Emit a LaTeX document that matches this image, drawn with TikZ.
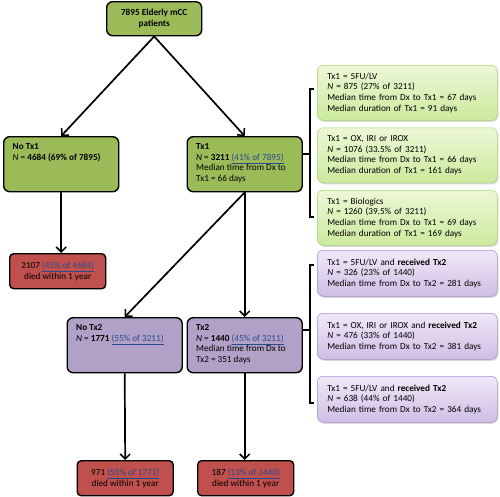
\documentclass[tikz,border=0pt]{standalone}
\usepackage{fontspec}
\setmainfont{Carlito}
\usetikzlibrary{positioning,shadows,arrows.meta}

\definecolor{txgreen}{RGB}{155,187,89}
\definecolor{txpurple}{RGB}{178,161,199}
\definecolor{deadred}{RGB}{192,80,77}
\definecolor{linkblue}{RGB}{40,74,140}
\definecolor{gtop}{RGB}{236,248,214}
\definecolor{gbot}{RGB}{204,234,158}
\definecolor{gline}{RGB}{170,212,112}
\definecolor{ptop}{RGB}{240,233,248}
\definecolor{pbot}{RGB}{206,190,228}
\definecolor{pline}{RGB}{168,142,204}

\newcommand{\lnk}[1]{\textcolor{linkblue}{\underline{#1}}}
\newcommand{\toptext}[1]{\parbox[c][41pt][t]{97pt}{#1}}

\tikzset{
  mainbox/.style={draw, rounded corners=6pt, line width=1.4pt, anchor=north west,
    inner xsep=9pt, inner ysep=7pt},
  deadbox/.style={draw, rounded corners=4pt, line width=1.4pt, fill=deadred,
    anchor=north west, align=center, minimum width=96pt, minimum height=35pt, inner sep=2pt},
  sidebox/.style={draw, rounded corners=6pt, line width=0.5pt, anchor=north west,
    text width=160pt, inner xsep=10pt, align=left, minimum width=180pt,
    drop shadow={opacity=0.3, shadow xshift=1pt, shadow yshift=-1.5pt}},
  greenside/.style={sidebox, draw=gline, top color=gtop, bottom color=gbot, minimum height=55pt},
  purpleside/.style={sidebox, draw=pline, top color=ptop, bottom color=pbot, minimum height=46pt},
  arr/.style={line width=1.7pt, -{Straight Barb[length=5pt,width=10pt,line width=1.5pt]}},
  brace/.style={line width=1.2pt}
}

\begin{document}
\begin{tikzpicture}[x=1pt, y=-1pt, font=\fontsize{9.2}{10.6}\selectfont]
\useasboundingbox (0,0) rectangle (500,496);

% main tree
\node[mainbox, fill=txgreen, minimum width=95pt, minimum height=34pt, inner sep=2pt,
  align=center, font=\fontsize{9.2}{11}\selectfont\bfseries] (top) at (106,1)
  {7895 Elderly mCC\\patients};

\node[mainbox, fill=txgreen] (notx1) at (3,136)
  {\toptext{\textbf{No Tx1}\\\textit{N} = \textbf{4684 (69\% of 7895)}}};
\node[mainbox, fill=txgreen] (tx1) at (186.5,136)
  {\toptext{\textbf{Tx1}\\\textit{N} = \textbf{3211} \lnk{(41\% of 7895)}\\Median time from Dx to\\Tx1 = 66 days}};

\node[deadbox] (dead1) at (9,253) {2107 \lnk{(45\% of 4684)}\\died within 1 year};

\node[mainbox, fill=txpurple] (notx2) at (66.5,317)
  {\toptext{\textbf{No Tx2}\\\textit{N} = \textbf{1771} \lnk{(55\% of 3211)}}};
\node[mainbox, fill=txpurple] (tx2) at (186.5,317)
  {\toptext{\textbf{Tx2}\\\textit{N} = \textbf{1440} \lnk{(45\% of 3211)}\\Median time from Dx to\\Tx2 = 351 days}};

\node[deadbox] (dead2) at (76.5,460) {971 \lnk{(55\% of 1771)}\\died within 1 year};
\node[deadbox] (dead3) at (197,460) {187 \lnk{(13\% of 1440)}\\died within 1 year};

% first line treatments
\node[greenside] (g1) at (317,65)
  {Tx1 = 5FU/LV\\\textit{N} = 875 (27\% of 3211)\\Median time from Dx to Tx1 = 67 days\\Median duration of Tx1 = 91 days};
\node[greenside] (g2) [below=7pt of g1]
  {Tx1 = OX, IRI or IROX\\\textit{N} = 1076 (33.5\% of 3211)\\Median time from Dx to Tx1 = 66 days\\Median duration of Tx1 = 161 days};
\node[greenside] (g3) [below=7pt of g2]
  {Tx1 = Biologics\\\textit{N} = 1260 (39.5\% of 3211)\\Median time from Dx to Tx1 = 69 days\\Median duration of Tx1 = 169 days};

% second line treatments
\node[purpleside] (p1) at (317,250)
  {Tx1 = 5FU/LV and \textbf{received Tx2}\\\textit{N} = 326 (23\% of 1440)\\Median time from Dx to Tx2 = 281 days};
\node[purpleside] (p2) [below=16.5pt of p1]
  {Tx1 = OX, IRI or IROX and \textbf{received Tx2}\\\textit{N} = 476 (33\% of 1440)\\Median time from Dx to Tx2 = 381 days};
\node[purpleside] (p3) [below=16.5pt of p2]
  {Tx1 = 5FU/LV and \textbf{received Tx2}\\\textit{N} = 638 (44\% of 1440)\\Median time from Dx to Tx2 = 364 days};

\draw[arr] (top.south) -- (notx1.north);
\draw[arr] (top.south) -- (tx1.north);
\draw[arr] (notx1.south) -- (notx1.south |- dead1.north);
\draw[arr] (tx1.south) -- (notx2.north);
\draw[arr] (tx1.south) -- (tx2.north);
\draw[arr] (notx2.south) -- (dead2.north);
\draw[arr] (tx2.south) -- (tx2.south |- dead3.north);

% brackets
\coordinate (gt) at (310,89);
\coordinate (gb) at (310,217);
\coordinate (gm) at (310,154);
\draw[brace] ([xshift=4pt]gt) -- (gt) -- (gb) -- ([xshift=4pt]gb);
\draw[brace] (tx1.east |- gm) -- (gm);

\coordinate (pt) at (310,265);
\coordinate (pb) at (310,403);
\coordinate (pm) at (310,330);
\draw[brace] ([xshift=4pt]pt) -- (pt) -- (pb) -- ([xshift=4pt]pb);
\draw[brace] (tx2.east |- pm) -- (pm);
\end{tikzpicture}
\end{document}
